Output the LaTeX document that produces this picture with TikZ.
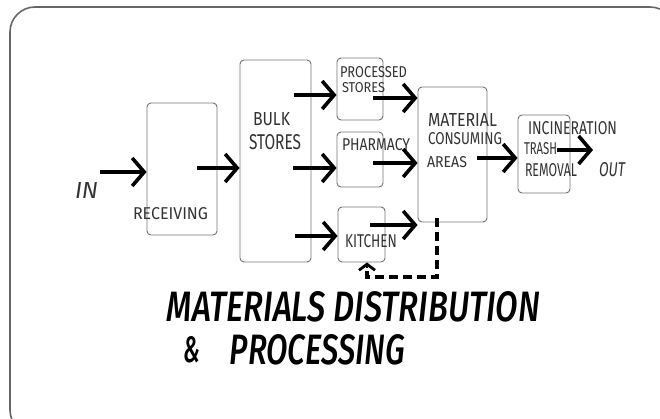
\documentclass[tikz,border=0pt]{standalone}
\usepackage{fontspec}
\usepackage{graphicx}
\setmainfont{Fira Sans}
\usetikzlibrary{arrows.meta}
\newcommand{\hwt}[3]{\resizebox{#1pt}{#2pt}{#3}}
\tikzset{
  box/.style={draw=black!55, line width=0.9pt, rounded corners=4pt},
  flow/.style={line width=3.8pt, -{Straight Barb[length=12pt,width=28pt,line width=3.6pt]}},
  lbl/.style={inner sep=0pt, text=black!80},
  ttl/.style={inner sep=0pt, text=black},
}
\begin{document}
\begin{tikzpicture}[x=1pt,y=-1pt]
\useasboundingbox (0,0) rectangle (660,419);
\begin{scope}
\clip (0,0) rectangle (660,419);
\draw[draw=black!60, line width=1.6pt, rounded corners=25pt] (10,7) rectangle (675,435);
\end{scope}

% boxes
\node[box, minimum width=70pt, minimum height=132pt] (rec) at (182,169) {};
\node[box, minimum width=71pt, minimum height=202pt] (bulk) at (275.5,161) {};
\node[box, minimum width=46pt, minimum height=62pt] (proc) at (360,89) {};
\node[box, minimum width=46pt, minimum height=55pt] (pharm) at (360,159.5) {};
\node[box, minimum width=47pt, minimum height=55pt] (kit) at (361.5,234.5) {};
\node[box, minimum width=69pt, minimum height=135pt] (mca) at (452.5,154.5) {};
\node[box, minimum width=52pt, minimum height=78pt] (inc) at (544,154) {};

% labels
\node[lbl] (tin) at (86.5,190.5) {\hwt{23}{16}{\itshape IN}};
\node[lbl] (trec) at (170.5,213.5) {\hwt{75}{12}{RECEIVING}};
\node[lbl] (tbulk) at (271.5,119.5) {\hwt{37}{13}{BULK}};
\node[lbl] (tbs) at (275,142.5) {\hwt{52}{15}{STORES}};
\node[lbl] (tproc) at (373.5,72.5) {\hwt{67}{11}{PROCESSED}};
\node[lbl] (tps) at (363.5,88) {\hwt{43}{10}{STORES}};
\node[lbl] (tph) at (376,144.5) {\hwt{68}{12}{PHARMACY}};
\node[lbl] (tkit) at (371,241.5) {\hwt{52}{13}{KITCHEN}};
\node[lbl] (tmat) at (462.5,120.5) {\hwt{69}{13}{MATERIAL}};
\node[lbl] (tcons) at (465,139) {\hwt{74}{12}{CONSUMING}};
\node[lbl] (tar) at (447,162.5) {\hwt{40}{11}{AREAS}};
\node[lbl] (tinc) at (572.5,128.5) {\hwt{89}{13}{INCINERATION}};
\node[lbl] (ttr) at (540.5,149) {\hwt{33}{12}{TRASH}};
\node[lbl] (trem) at (551,170) {\hwt{52}{13}{REMOVAL}};
\node[lbl] (tout) at (612,170) {\hwt{26}{14}{\itshape OUT}};

% title
\node[ttl] (t1) at (353.5,307) {\hwt{373}{30}{\fontspec{Fira Sans Medium}\itshape MATERIALS DISTRIBUTION}};
\node[ttl] (tamp) at (191.5,350) {\hwt{17}{26}{\fontspec{Fira Sans Medium}\itshape \&}};
\node[ttl] (t2) at (317.5,350) {\hwt{175}{30}{\fontspec{Fira Sans Medium}\itshape PROCESSING}};

% coordinates for arrow starts
\coordinate (a0) at (100,172);
\coordinate (a1) at (197,168);
\coordinate (b1) at (294,95);
\coordinate (b2) at (293,168);
\coordinate (b3) at (295,236);
\coordinate (p1) at (373,98);
\coordinate (p2) at (373,163);
\coordinate (k1) at (370,225);
\coordinate (m1) at (477,158);
\coordinate (i1) at (557,150);
\coordinate (o1) at (593,150);

\draw[flow] (a0) -- (a0 -| rec.west);
\draw[flow] (a1) -- (a1 -| bulk.west);
\draw[flow] (b1) -- (b1 -| proc.west);
\draw[flow] (b2) -- (b2 -| pharm.west);
\draw[flow] (b3) -- (b3 -| kit.west);
\draw[flow] (p1) -- (p1 -| mca.west);
\draw[flow] (p2) -- (p2 -| mca.west);
\draw[flow] (k1) -- (k1 -| mca.west);
\draw[flow] (m1) -- (m1 -| inc.west);
\draw[flow] (i1) -- (o1);

% dashed return
\coordinate (d0) at (437,218);
\coordinate (d1) at (437,277);
\coordinate (d2) at (367,277);
\draw[line width=3.2pt, dash pattern=on 9pt off 5pt] (d0) -- (d1) -- (d2) -- (367,268);
\draw[line width=2.8pt, -{Straight Barb[length=6pt,width=16pt,line width=2.8pt]}] (367,268) -- (kit.south -| d2);
\end{tikzpicture}
\end{document}
